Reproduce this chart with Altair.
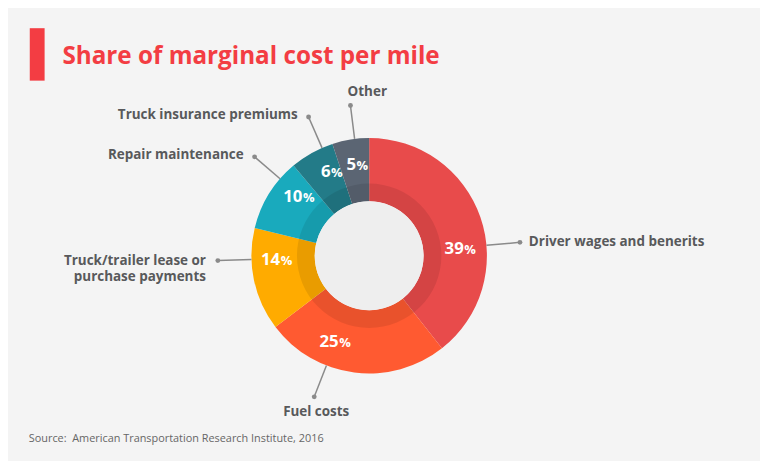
import math
import altair as alt
import pandas as pd

# ---------------- data ----------------
categories = [
    "Driver wages and benerits",
    "Fuel costs",
    "Truck/trailer lease or purchase payments",
    "Repair maintenance",
    "Truck insurance premiums",
    "Other",
]
shares = [39, 25, 14, 10, 6, 5]
label_text = [
    "Driver wages and benerits",
    "Fuel costs",
    "Truck/trailer lease or\npurchase payments",
    "Repair maintenance",
    "Truck insurance premiums",
    "Other",
]
colors = ["#e84b4b", "#ff5a31", "#ffab00", "#19aabd", "#237b88", "#5b6573"]

# ---------------- layout / style ----------------
W, H = 760, 453
CX, CY = 365, 248
R_OUT, R_MID, R_IN = 119, 73, 55
R_PCT = 93
LEAD_IN, LEAD_OUT = 119, 153
angle_shift = [14, 14, 10, 9, 5.5, 2]          # label placement nudges (deg)
label_dx = [9, 2, -12, -11, -11, 17]
label_dy = [0, 15, 0, -2, -2, -14]
label_align = ["left", "center", "right", "right", "right", "center"]
FONT = "Open Sans"
TXT = "#58595b"
LEAD = "#8a8a8a"
BG = "#f4f4f4"

# ---------------- derived tables ----------------
total = sum(shares)
rows = []
cum = 0.0
for i, (c, s) in enumerate(zip(categories, shares)):
    start = cum / total * 360
    cum += s
    end = cum / total * 360
    mid = (start + end) / 2 + angle_shift[i]
    a = math.radians(mid)
    sx, cy_ = math.sin(a), math.cos(a)
    num = str(s)
    split = (9.5 * len(num) - 13) / 2
    px = CX + R_PCT * sx
    py = CY - R_PCT * cy_
    lx = CX + LEAD_OUT * sx
    ly = CY - LEAD_OUT * cy_
    rows.append(dict(
        idx=i, category=c, share=s, num=num, pct="%",
        px=px + split, py=py,
        x0=CX + LEAD_IN * sx, y0=CY - LEAD_IN * cy_,
        x1=lx, y1=ly,
        tx=lx + label_dx[i], ty=ly + label_dy[i],
        label=label_text[i], align=label_align[i],
    ))
df = pd.DataFrame(rows)

xs = alt.Scale(domain=[0, W], nice=False, zero=False)
ys = alt.Scale(domain=[0, H], nice=False, zero=False, reverse=True)

def X(f):
    return alt.X(f"{f}:Q", scale=xs, axis=None)

def Y(f):
    return alt.Y(f"{f}:Q", scale=ys, axis=None)

base = alt.Chart(df)

arcs = base.mark_arc(radius=R_OUT, radius2=R_IN).encode(
    theta=alt.Theta("share:Q", stack=True),
    color=alt.Color("category:N", scale=alt.Scale(domain=categories, range=colors), legend=None),
    order=alt.Order("idx:Q", sort="ascending"),
    x=alt.value(CX), y=alt.value(CY),
)

one = alt.Chart(pd.DataFrame({"k": [0]}))
shade = one.mark_arc(radius=R_MID, radius2=R_IN, theta=0, theta2=2 * math.pi,
                     color="black", opacity=0.085).encode(x=alt.value(CX), y=alt.value(CY))
center = one.mark_arc(radius=R_IN, radius2=0, theta=0, theta2=2 * math.pi,
                      color="#eeeeee").encode(x=alt.value(CX), y=alt.value(CY))

leaders = base.mark_rule(color=LEAD, strokeWidth=1.5).encode(
    x=X("x0"), y=Y("y0"), x2="x1:Q", y2="y1:Q")
dots = base.mark_circle(color=LEAD, size=24, opacity=1).encode(x=X("x1"), y=Y("y1"))

label_layers = []
for al in ["left", "center", "right"]:
    label_layers.append(
        base.transform_filter(alt.datum.align == al).mark_text(
            align=al, baseline="middle", font=FONT, fontSize=13.6, fontWeight="bold",
            color=TXT, lineBreak="\n", lineHeight=17,
        ).encode(x=X("tx"), y=Y("ty"), text="label:N")
    )

nums = base.mark_text(align="right", baseline="alphabetic", dy=6, font=FONT,
                      fontSize=17, fontWeight="bold", color="white").encode(
    x=X("px"), y=Y("py"), text="num:N")
pcts = base.mark_text(align="left", baseline="alphabetic", dy=6, dx=0.5, font=FONT,
                      fontSize=13, fontWeight="bold", color="white").encode(
    x=X("px"), y=Y("py"), text="pct:N")

bar = one.mark_rect(color="#f33d43").encode(
    x=alt.value(22), x2=alt.value(37), y=alt.value(18), y2=alt.value(71))
title = one.mark_text(align="left", baseline="alphabetic", font=FONT, fontSize=24.5,
                      fontWeight="bold", color="#f33d43").encode(
    x=alt.value(55), y=alt.value(54), text=alt.value("Share of marginal cost per mile"))
source = one.mark_text(align="left", baseline="alphabetic", font=FONT, fontSize=11,
                       color="#666666").encode(
    x=alt.value(21), y=alt.value(436),
    text=alt.value("Source:\u00a0 American Transportation Research Institute, 2016"))

chart = alt.layer(
    arcs, shade, center, leaders, dots, *label_layers, nums, pcts, bar, title, source
).properties(
    width=W, height=H, padding=0, background=BG,
    autosize=alt.AutoSizeParams(type="none"),
).configure_view(stroke=None)

chart.save("out.html", embed_options={"renderer": "svg", "actions": False})
